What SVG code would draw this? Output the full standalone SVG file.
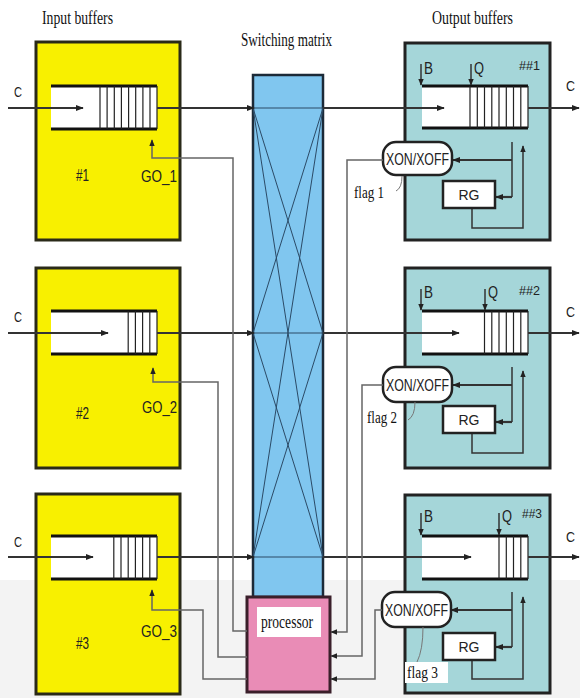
<svg xmlns="http://www.w3.org/2000/svg" width="580" height="698" viewBox="0 0 580 698">
<defs>
<marker id="ah" viewBox="0 0 10 10" refX="9" refY="5" markerWidth="8" markerHeight="8" markerUnits="userSpaceOnUse" orient="auto"><path d="M0,1 L10,5 L0,9 z" fill="#222"/></marker>
<marker id="as" viewBox="0 0 10 10" refX="9" refY="5" markerWidth="7" markerHeight="7" markerUnits="userSpaceOnUse" orient="auto"><path d="M0,1 L10,5 L0,9 z" fill="#222"/></marker>
</defs>
<style>
.inbox{fill:#f8f000;stroke:#2a2a18;stroke-width:3}
.outbox{fill:#a5d6d9;stroke:#222;stroke-width:3}
.qfill{fill:#fff;stroke:none}
.qedge{stroke:#111;stroke-width:3;fill:none}
.slot{stroke:#222;stroke-width:1.2;fill:none}
.main{stroke:#333;stroke-width:2;fill:none}
.ctl{stroke:#666;stroke-width:1.5;fill:none}
.fb{stroke:#333;stroke-width:1.5;fill:none}
.fbt{stroke:#333;stroke-width:2.2;fill:none}
.mx{stroke:#2b4a66;stroke-width:1;fill:none}
.pill{fill:#fff;stroke:#222;stroke-width:2.5}
.rg{fill:#fff;stroke:#222;stroke-width:2.5}
.sans{font-family:"Liberation Sans",Arial,sans-serif;fill:#222}
.serif{font-family:"Liberation Serif","Times New Roman",serif;fill:#111}
.ptr{stroke:#777;stroke-width:1;fill:none}
</style>
<rect x="0" y="0" width="580" height="698" fill="#fff"/>
<rect x="0" y="580" width="580" height="118" fill="#f3f3f3"/>

<text class="serif" x="42" y="24" font-size="18" textLength="71" lengthAdjust="spacingAndGlyphs">Input buffers</text>
<text class="serif" x="241" y="46" font-size="18" textLength="91" lengthAdjust="spacingAndGlyphs">Switching matrix</text>
<text class="serif" x="432" y="24" font-size="18" textLength="81" lengthAdjust="spacingAndGlyphs">Output buffers</text>

<g id="matrix">
<rect x="253" y="75" width="70" height="522" fill="#80c6ef" stroke="#1c2a38" stroke-width="2.5"/>
</g>

<g id="processor">
<rect x="247" y="597" width="83" height="95" fill="#e98cb6" stroke="#3a1f2a" stroke-width="3"/>
<rect x="257" y="607" width="64" height="30" fill="#fff"/>
<text class="serif" x="261" y="628" font-size="19" textLength="52" lengthAdjust="spacingAndGlyphs">processor</text>
</g>

<g id="in1">
<rect class="inbox" x="36" y="42" width="144" height="198"/>
<rect class="qfill" x="51" y="86" width="106" height="43"/>
<path class="qedge" d="M51,86 H157 M51,129 H157"/>
<path class="slot" d="M100,86 V129 M107.1,86 V129 M114.3,86 V129 M121.4,86 V129 M128.6,86 V129 M135.7,86 V129 M142.9,86 V129 M150,86 V129 M157,86 V129"/>
<text class="sans" x="14" y="97" font-size="15" textLength="8" lengthAdjust="spacingAndGlyphs">C</text>
<text class="sans" x="76" y="181" font-size="16" textLength="13" lengthAdjust="spacingAndGlyphs">#1</text>
<text class="sans" x="141" y="182" font-size="16" textLength="36" lengthAdjust="spacingAndGlyphs">GO_1</text>
</g>

<g id="in2">
<rect class="inbox" x="36" y="268" width="144" height="200"/>
<rect class="qfill" x="51" y="311" width="106" height="43"/>
<path class="qedge" d="M51,311 H157 M51,354 H157"/>
<path class="slot" d="M128.2,311 V354 M135.4,311 V354 M142.6,311 V354 M149.8,311 V354 M157,311 V354"/>
<text class="sans" x="14" y="322" font-size="15" textLength="8" lengthAdjust="spacingAndGlyphs">C</text>
<text class="sans" x="76" y="419" font-size="16" textLength="13" lengthAdjust="spacingAndGlyphs">#2</text>
<text class="sans" x="142" y="413" font-size="16" textLength="35" lengthAdjust="spacingAndGlyphs">GO_2</text>
</g>

<g id="in3">
<rect class="inbox" x="36" y="494" width="144" height="200"/>
<rect class="qfill" x="51" y="536" width="106" height="43"/>
<path class="qedge" d="M51,536 H157 M51,579 H157"/>
<path class="slot" d="M113.8,536 V579 M121,536 V579 M128.2,536 V579 M135.4,536 V579 M142.6,536 V579 M149.8,536 V579 M157,536 V579"/>
<text class="sans" x="14" y="547" font-size="15" textLength="8" lengthAdjust="spacingAndGlyphs">C</text>
<text class="sans" x="76" y="649" font-size="16" textLength="13" lengthAdjust="spacingAndGlyphs">#3</text>
<text class="sans" x="141" y="637" font-size="16" textLength="36" lengthAdjust="spacingAndGlyphs">GO_3</text>
</g>

<g id="out1">
<rect class="outbox" x="405" y="43" width="145" height="197"/>
<rect class="qfill" x="422" y="86" width="106" height="42"/>
<path class="qedge" d="M422,86 H528 M422,128 H528"/>
<path class="slot" d="M470,86 V128 M477.3,86 V128 M484.5,86 V128 M491.8,86 V128 M499,86 V128 M506.3,86 V128 M513.5,86 V128 M520.8,86 V128 M528,86 V128"/>
<path class="fb" d="M421,64 V85" marker-end="url(#as)"/>
<path class="fb" d="M471,64 V85" marker-end="url(#as)"/>
<text class="sans" x="424" y="74" font-size="16" textLength="9" lengthAdjust="spacingAndGlyphs">B</text>
<text class="sans" x="474" y="74" font-size="16" textLength="10" lengthAdjust="spacingAndGlyphs">Q</text>
<text class="sans" x="519" y="70" font-size="13" textLength="21" lengthAdjust="spacingAndGlyphs">##1</text>
<text class="sans" x="566" y="91" font-size="15" textLength="9" lengthAdjust="spacingAndGlyphs">C</text>
<path class="fb" d="M512,142 V197"/>
<path class="fbt" d="M512,160 H453" marker-end="url(#ah)"/>
<path class="fbt" d="M512,197 H496" marker-end="url(#ah)"/>
<path class="fb" d="M472,208 V228 H523 V146" marker-end="url(#as)"/>
<rect class="pill" x="383" y="142" width="69" height="33" rx="13"/>
<text class="sans" x="386" y="165" font-size="17" textLength="63" lengthAdjust="spacingAndGlyphs">XON/XOFF</text>
<rect class="rg" x="443" y="181" width="52" height="27"/>
<text class="sans" x="469" y="200" font-size="14" text-anchor="middle">RG</text>
<path class="ptr" d="M402,176 Q402,188 396,191"/>
<text class="serif" x="354" y="198" font-size="17" textLength="30" lengthAdjust="spacingAndGlyphs">flag 1</text>
</g>

<g id="out2">
<rect class="outbox" x="405" y="268" width="145" height="200"/>
<rect class="qfill" x="422" y="311" width="106" height="43"/>
<path class="qedge" d="M422,311 H528 M422,354 H528"/>
<path class="slot" d="M484.5,311 V354 M491.8,311 V354 M499,311 V354 M506.3,311 V354 M513.5,311 V354 M520.8,311 V354 M528,311 V354"/>
<path class="fb" d="M421,289 V310" marker-end="url(#as)"/>
<path class="fb" d="M485,289 V310" marker-end="url(#as)"/>
<text class="sans" x="424" y="298" font-size="16" textLength="9" lengthAdjust="spacingAndGlyphs">B</text>
<text class="sans" x="488" y="298" font-size="16" textLength="10" lengthAdjust="spacingAndGlyphs">Q</text>
<text class="sans" x="519" y="295" font-size="13" textLength="21" lengthAdjust="spacingAndGlyphs">##2</text>
<text class="sans" x="566" y="317" font-size="15" textLength="9" lengthAdjust="spacingAndGlyphs">C</text>
<path class="fb" d="M512,367 V422"/>
<path class="fbt" d="M512,385 H453" marker-end="url(#ah)"/>
<path class="fbt" d="M512,422 H496" marker-end="url(#ah)"/>
<path class="fb" d="M472,433 V453 H523 V371" marker-end="url(#as)"/>
<rect class="pill" x="383" y="367" width="69" height="35" rx="13"/>
<text class="sans" x="386" y="391" font-size="17" textLength="63" lengthAdjust="spacingAndGlyphs">XON/XOFF</text>
<rect class="rg" x="443" y="406" width="52" height="27"/>
<text class="sans" x="469" y="425" font-size="14" text-anchor="middle">RG</text>
<path class="ptr" d="M415,402 Q415,416 408,420"/>
<text class="serif" x="367" y="423" font-size="17" textLength="30" lengthAdjust="spacingAndGlyphs">flag 2</text>
</g>

<g id="out3">
<rect class="outbox" x="405" y="495" width="145" height="198"/>
<rect class="qfill" x="422" y="536" width="106" height="43"/>
<path class="qedge" d="M422,536 H528 M422,579 H528"/>
<path class="slot" d="M499,536 V579 M506.3,536 V579 M513.5,536 V579 M520.8,536 V579 M528,536 V579"/>
<path class="fb" d="M421,513 V535" marker-end="url(#as)"/>
<path class="fb" d="M499,513 V535" marker-end="url(#as)"/>
<text class="sans" x="424" y="522" font-size="16" textLength="9" lengthAdjust="spacingAndGlyphs">B</text>
<text class="sans" x="502" y="522" font-size="16" textLength="10" lengthAdjust="spacingAndGlyphs">Q</text>
<text class="sans" x="522" y="518" font-size="12" textLength="20" lengthAdjust="spacingAndGlyphs">##3</text>
<text class="sans" x="566" y="542" font-size="15" textLength="9" lengthAdjust="spacingAndGlyphs">C</text>
<path class="fb" d="M512,592 V647"/>
<path class="fbt" d="M512,610 H451" marker-end="url(#ah)"/>
<path class="fbt" d="M512,647 H496" marker-end="url(#ah)"/>
<path class="fb" d="M472,660 V679 H523 V597" marker-end="url(#as)"/>
<rect class="pill" x="382" y="592" width="69" height="35" rx="13"/>
<text class="sans" x="385" y="616" font-size="17" textLength="63" lengthAdjust="spacingAndGlyphs">XON/XOFF</text>
<rect class="rg" x="443" y="633" width="52" height="27"/>
<text class="sans" x="469" y="652" font-size="14" text-anchor="middle">RG</text>
<rect x="405" y="662" width="43" height="21" fill="#fff"/>
<path class="ptr" d="M423,627 Q423,650 417,662"/>
<text class="serif" x="407" y="678" font-size="17" textLength="31" lengthAdjust="spacingAndGlyphs">flag 3</text>
</g>

<g id="connectors">
<path class="mx" d="M253,108 L323,333 M253,108 L323,557 M323,108 L253,333 M323,108 L253,557 M253,333 L323,557 M323,333 L253,557"/>
<path class="mx" stroke-width="1.6" d="M253,108 H323 M253,333 H323 M253,557 H323"/>
<path class="main" d="M8,108 H83" marker-end="url(#ah)"/>
<path class="main" d="M157,108 H254" marker-end="url(#ah)"/>
<path class="main" d="M323,108 H444" marker-end="url(#ah)"/>
<path class="main" d="M528,108 H579" marker-end="url(#ah)"/>
<path class="main" d="M8,333 H108" marker-end="url(#ah)"/>
<path class="main" d="M157,333 H254" marker-end="url(#ah)"/>
<path class="main" d="M323,333 H459" marker-end="url(#ah)"/>
<path class="main" d="M528,333 H579" marker-end="url(#ah)"/>
<path class="main" d="M8,557 H93" marker-end="url(#ah)"/>
<path class="main" d="M157,557 H254" marker-end="url(#ah)"/>
<path class="main" d="M323,557 H471" marker-end="url(#ah)"/>
<path class="main" d="M528,557 H579" marker-end="url(#ah)"/>
<path class="ctl" d="M247,631 H233 V158 H152 V140" marker-end="url(#as)"/>
<path class="ctl" d="M247,657 H218 V382 H153 V368" marker-end="url(#as)"/>
<path class="ctl" d="M247,679 H203 V610 H152 V590" marker-end="url(#as)"/>
<path class="ctl" d="M383,160 H347 V632 H331" marker-end="url(#as)"/>
<path class="ctl" d="M383,385 H362 V656 H331" marker-end="url(#as)"/>
<path class="ctl" d="M382,610 H375 V679 H331" marker-end="url(#as)"/>
</g>
</svg>
